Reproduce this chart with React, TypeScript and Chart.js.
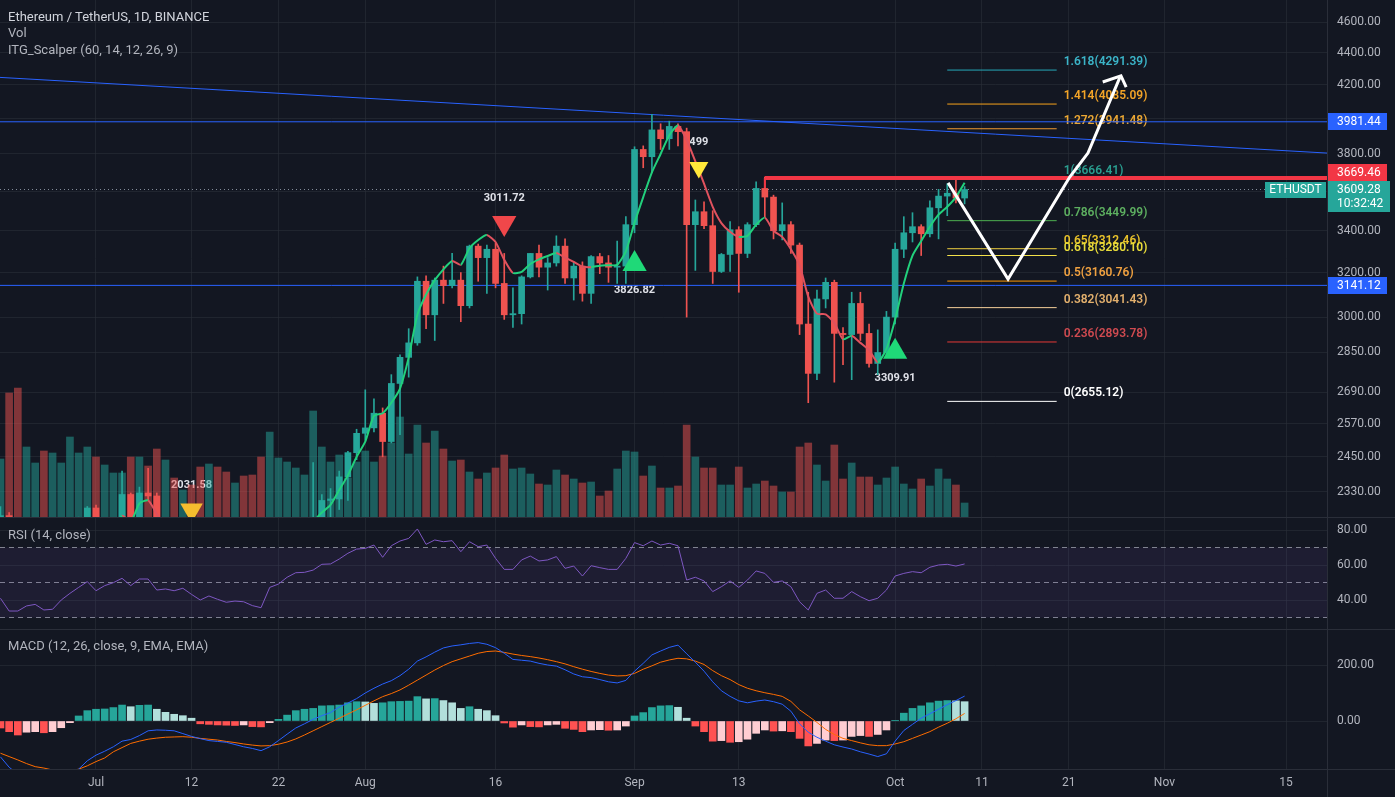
import React, { useEffect, useRef } from "react";
import { Chart, registerables } from "chart.js";

Chart.register(...registerables);

// ---------------- data ----------------
const FIRST_DATE = "2021-06-20";
const AXIS_ORIGIN = "2021-07-01";
const DAY_MS = 86400000;

const opens = [
  2165, 2250, 1890, 1875, 1970, 1990, 1830, 1840, 1975, 2085, 2160,
  2275, 2115, 2150, 2225, 2320, 2200, 2325, 2315, 2115, 2145, 2110, 2140, 2035, 1990, 1995, 1920, 1875, 1895, 1890, 1820, 1785, 1995, 2030, 2125, 2185, 2190, 2230, 2300, 2305, 2380, 2465,
  2535, 2555, 2610, 2505, 2725, 2830, 2890, 3160, 3010, 3165, 3140, 3165, 3050, 3325, 3270, 3310, 3150, 3010, 3015, 3180, 3290, 3225, 3245, 3325, 3175, 3230, 3105, 3275, 3245, 3225, 3230,
  3430, 3825, 3785, 3935, 3885, 3955, 3925, 3430, 3495, 3425, 3205, 3285, 3405, 3290, 3430, 3615, 3570, 3400, 3430, 3330, 2970, 2765, 3080, 3155, 2930, 2925, 3060, 2930, 2805, 2850,
  3000, 3310, 3390, 3420, 3385, 3515, 3575, 3590, 3565,
];
const highs = [
  2280, 2260, 2040, 2045, 2040, 2010, 1870, 1980, 2130, 2245, 2280,
  2285, 2165, 2240, 2400, 2325, 2345, 2410, 2325, 2185, 2190, 2160, 2190, 2045, 2005, 2030, 1975, 1940, 1990, 1905, 1825, 2030, 2045, 2130, 2200, 2195, 2430, 2320, 2340, 2400, 2470, 2550,
  2700, 2665, 2630, 2760, 2840, 2950, 3180, 3185, 3175, 3230, 3290, 3200, 3330, 3335, 3330, 3340, 3290, 3130, 3185, 3290, 3330, 3270, 3375, 3360, 3250, 3250, 3280, 3290, 3280, 3350, 3470,
  3840, 3845, 4025, 3970, 3985, 3970, 3945, 3555, 3545, 3500, 3290, 3445, 3420, 3440, 3650, 3675, 3580, 3540, 3445, 3340, 3110, 3120, 3175, 3165, 2955, 3110, 3110, 2970, 2945, 3025,
  3340, 3470, 3490, 3430, 3550, 3610, 3640, 3675, 3625,
];
const lows = [
  2040, 1890, 1700, 1850, 1870, 1800, 1720, 1800, 1950, 2080, 2050,
  2085, 2040, 2115, 2190, 2160, 2195, 2300, 2085, 2050, 2060, 2080, 2000, 1950, 1880, 1900, 1855, 1850, 1870, 1800, 1720, 1770, 1955, 1990, 2100, 2115, 2160, 2150, 2230, 2270, 2300, 2440,
  2510, 2540, 2450, 2500, 2530, 2750, 2880, 2950, 2900, 3060, 3130, 2980, 3040, 3160, 3105, 3130, 2990, 2955, 2970, 3175, 3180, 3120, 3230, 3150, 3075, 3070, 3060, 3195, 3155, 3150, 3150,
  3390, 3725, 3700, 3825, 3825, 3845, 3000, 3210, 3410, 3150, 3200, 3205, 3110, 3270, 3420, 3470, 3360, 3355, 3290, 2925, 2650, 2740, 3040, 2730, 2800, 2740, 2900, 2790, 2760, 2830,
  2970, 3270, 3345, 3280, 3370, 3360, 3475, 3540, 3535,
];
const closes = [
  2250, 1890, 1875, 1970, 1990, 1830, 1840, 1975, 2085, 2160, 2275,
  2115, 2150, 2225, 2320, 2200, 2325, 2315, 2115, 2145, 2110, 2140, 2035, 1990, 1995, 1920, 1875, 1895, 1890, 1820, 1785, 1995, 2030, 2125, 2185, 2190, 2230, 2300, 2305, 2380, 2465, 2535,
  2555, 2610, 2505, 2725, 2830, 2890, 3160, 3010, 3165, 3140, 3165, 3050, 3325, 3270, 3310, 3150, 3010, 3015, 3180, 3290, 3225, 3245, 3325, 3175, 3230, 3105, 3275, 3245, 3225, 3230, 3430,
  3825, 3785, 3935, 3885, 3955, 3925, 3430, 3495, 3425, 3205, 3285, 3405, 3290, 3430, 3615, 3570, 3400, 3430, 3330, 2970, 2765, 3080, 3155, 2930, 2925, 3060, 2930, 2805, 2850, 3000,
  3310, 3390, 3420, 3385, 3515, 3575, 3590, 3565, 3609.28,
];
// volume, thousand ETH
const volumes = [
  580, 1240, 1290, 700, 540, 660, 640, 540, 800, 640, 700,
  600, 520, 440, 440, 600, 600, 510, 680, 570, 390, 270, 320, 500, 530, 500, 450, 340, 410, 420, 600, 850, 590, 550, 490, 420, 1060, 700, 550, 620, 390, 550,
  660, 550, 610, 740, 1000, 630, 920, 740, 860, 680, 560, 570, 450, 380, 440, 490, 620, 480, 490, 430, 330, 320, 470, 420, 380, 340, 350, 210, 260, 480, 660,
  650, 410, 510, 290, 290, 310, 920, 600, 490, 490, 320, 320, 500, 290, 330, 360, 310, 250, 250, 700, 740, 520, 360, 720, 380, 540, 400, 400, 320, 390,
  500, 330, 280, 380, 310, 480, 380, 320, 140,
];
// ITG_Scalper trend line
const itgLine = [
  2120, 2060, 1960, 1950, 1960, 1910, 1870, 1910, 1990, 2070, 2160,
  2140, 2145, 2180, 2250, 2230, 2290, 2300, 2255, 2200, 2150, 2145, 2090, 2040, 2015, 1965, 1920, 1905, 1900, 1860, 1820, 1910, 1970, 2050, 2120, 2200, 2230, 2260, 2285, 2335, 2385, 2450,
  2505, 2600, 2610, 2650, 2705, 2830, 3010, 3100, 3165, 3215, 3254, 3236, 3315, 3355, 3379, 3345, 3260, 3198, 3203, 3240, 3262, 3278, 3292, 3270, 3250, 3228, 3225, 3232, 3234, 3236, 3300,
  3440, 3570, 3700, 3800, 3905, 3960, 3878, 3760, 3640, 3520, 3438, 3395, 3370, 3375, 3430, 3465, 3400, 3370, 3310, 3235, 3090, 3015, 3012, 2975, 2905, 2920, 2890, 2860, 2810, 2865,
  2990, 3150, 3280, 3350, 3420, 3480, 3520, 3570, 3645,
];
const rsi = [
  41.0, 33.7, 33.7, 36.6, 37.5, 34.3, 34.7, 40.0, 43.8, 47.2, 50.5,
  45.3, 48.2, 49.9, 52.4, 48.2, 52.0, 52.0, 45.7, 46.3, 45.3, 46.7, 43.2, 40.0, 42.3, 40.4, 38.7, 39.4, 39.0, 36.8, 35.6, 47.2, 49.1, 53.0, 55.6, 55.8, 57.1, 60.4, 60.6, 63.4, 66.7, 69.1,
  69.5, 71.4, 64.4, 71.0, 73.7, 75.2, 80.6, 71.8, 74.3, 73.3, 73.9, 67.6, 73.3, 70.5, 71.4, 63.8, 57.5, 57.5, 62.9, 65.1, 62.3, 62.9, 64.8, 58.1, 59.4, 53.7, 59.6, 58.5, 57.5, 57.5, 63.8,
  72.8, 71.0, 73.7, 71.4, 72.4, 71.0, 51.4, 53.0, 50.9, 44.8, 47.6, 50.9, 47.2, 51.4, 56.6, 55.2, 50.1, 50.9, 47.6, 39.0, 34.3, 43.8, 45.7, 41.0, 41.0, 44.8, 41.9, 39.6, 41.0, 45.7,
  53.7, 55.2, 56.2, 55.6, 58.7, 60.0, 60.4, 59.4, 60.6,
];
const macdLine = [
  -128, -165, -190, -205, -210, -212, -210, -200, -188, -172, -142,
  -122, -108, -92, -72, -66, -52, -35, -32, -33, -35, -45, -55, -63, -70, -73, -76, -84, -92, -98, -106, -92, -70, -47, -25, -10, 6, 19, 30, 50, 64, 80,
  100, 117, 132, 144, 162, 185, 214, 229, 246, 261, 268, 272, 277, 280, 274, 262, 242, 220, 217, 214, 206, 200, 196, 183, 168, 158, 155, 148, 140, 136, 145,
  178, 206, 236, 250, 263, 271, 240, 210, 178, 140, 108, 88, 72, 65, 71, 75, 69, 60, 35, -10, -40, -58, -72, -85, -93, -100, -110, -118, -127, -117,
  -72, -34, -12, 10, 26, 42, 58, 73, 89,
];
const signalLine = [
  -115, -127, -139, -152, -163, -168, -175, -178, -178, -172, -160,
  -145, -132, -110, -95, -80, -72, -65, -61, -58, -57, -56, -58, -62, -65, -68, -73, -77, -82, -86, -89, -88, -83, -75, -64, -50, -35, -20, -5, 10, 25, 40,
  56, 72, 87, 98, 111, 128, 146, 164, 182, 198, 212, 222, 232, 242, 248, 250, 245, 239, 234, 230, 225, 219, 212, 204, 194, 185, 177, 170, 164, 161, 162,
  170, 185, 197, 210, 218, 224, 222, 214, 202, 180, 162, 148, 130, 117, 108, 101, 95, 88, 70, 40, 18, -5, -30, -48, -62, -70, -78, -85, -88, -88,
  -82, -74, -62, -50, -38, -22, -8, 8, 27,
];
const histogram = [
  -25, -38, -50, -40, -38, -42, -38, -24, -6, 18, 37,
  42, 43, 48, 57, 51, 56, 57, 42, 31, 24, 19, 10, -10, -12, -14, -15, -16, -14, -20, -21, -6, 6, 21, 37, 42, 45, 54, 55, 57, 65, 69,
  68, 63, 65, 69, 70, 71, 87, 79, 80, 73, 65, 45, 51, 42, 37, 19, -7, -22, -14, -20, -21, -14, -12, -26, -30, -38, -32, -31, -33, -32, -18,
  18, 30, 48, 54, 55, 49, 10, -18, -38, -72, -70, -76, -74, -65, -44, -32, -36, -35, -38, -62, -89, -80, -68, -70, -68, -55, -52, -55, -48, -32,
  1, 28, 45, 54, 65, 71, 73, 72, 69,
];

const xTickDates = ["2021-07-01", "2021-07-12", "2021-07-22", "2021-08-01", "2021-08-16", "2021-09-01", "2021-09-13", "2021-10-01", "2021-10-11", "2021-10-21", "2021-11-01", "2021-11-15"];
const xTickLabels = ["Jul", "12", "22", "Aug", "16", "Sep", "13", "Oct", "11", "21", "Nov", "15"];
const priceTicks = [4600, 4400, 4200, 4000, 3800, 3600, 3400, 3200, 3000, 2850, 2690, 2570, 2450, 2330];
const rsiTicks = [40, 60, 80];
const rsiLevels = [70, 50, 30];
const macdTicks = [0, 200];

const fibRatios = [1.618, 1.414, 1.272, 1, 0.786, 0.65, 0.618, 0.5, 0.382, 0.236, 0];
const fibPrices = [4291.39, 4085.09, 3941.48, 3666.41, 3449.99, 3312.46, 3280.1, 3160.76, 3041.43, 2893.78, 2655.12];
const fibDays = [98, 110.6];
const fibLabelDay = 111.4;

const hLinePrices = [3981.44, 3141.12];
const trendLine = [[-11.052, 4246], [141.72, 3805]];
const resistance = { startDay: 77, price: 3669.46, tickPrice: 3617 };
const lastPrice = 3609.28;
const arrowPath = [[98.1, 3644], [105.0, 3170], [112.1, 3675], [114.2, 3805], [117.9, 4249]];
const arrowHead = [[115.9, 4218], [118.0, 4255], [118.6, 4187]];
const markers = [
  { day: 47, price: 3438, dir: "down", color: "#f0474a", size: 14, label: "3011.72" },
  { day: 62, price: 3240, dir: "up", color: "#1fd978", size: 14, label: "3826.82" },
  { day: 69.4, price: 3726, dir: "down", color: "#ffe83a", size: 11, label: "499" },
  { day: 92, price: 2853, dir: "up", color: "#1fd978", size: 14, label: "3309.91" },
  { day: 11, price: 2268, dir: "down", color: "#f5bd2e", size: 13, label: "2031.58" },
];

// ---------------- layout & style ----------------
const W = 1395;
const AXIS_W = 68;
const PRICE_H = 517;
const RSI_TOP = 518;
const RSI_H = 111;
const MACD_TOP = 630;
const MACD_H = 167;
const X_MIN = -11.052;
const X_MAX = 141.72;
const P_MIN = 2245.5;
const P_MAX = 4750;
const VOL_MAX = 5170;
const RSI_MIN = 23.43;
const RSI_MAX = 86.86;
const MACD_MIN = -171.4;
const MACD_MAX = 325;

const BG = "#131722";
const GRID = "rgba(42,46,57,0.6)";
const SEP = "#2a2e39";
const TXT = "#b2b5be";
const FONT = "Roboto, 'Open Sans', sans-serif";
const UP = "#26a69a";
const DN = "#ef5350";
const VOL_UP = "rgba(38,166,154,0.5)";
const VOL_DN = "rgba(239,83,80,0.5)";
const BLUE = "#2962ff";
const RED = "#f23645";
const ITG_UP = "#22d07c";
const ITG_DN = "#e0525e";
const fibLineColors = ["#26a7b9", "#f7a21b", "#f09a30", "#26a69a", "#4caf50", "#f0d040", "#f3e14a", "#ff9800", "#f5cf9a", "#e53935", "#ffffff"];
const fibTextColors = ["#3bb4c8", "#f3a427", "#eba733", "#2a9d8f", "#5daf60", "#e8c22a", "#e8dc3a", "#f0a140", "#e3b06d", "#cf4a50", "#ffffff"];

const toDay = (iso: string) =>
  (Date.parse(iso + "T00:00:00Z") - Date.parse(AXIS_ORIGIN + "T00:00:00Z")) / DAY_MS;
const dates = opens.map((_, i) =>
  new Date(Date.parse(FIRST_DATE + "T00:00:00Z") + i * DAY_MS).toISOString().slice(0, 10)
);
const days = dates.map(toDay);
const xTickDays = xTickDates.map(toDay);
const isUp = closes.map((c, i) => c >= opens[i]);

const noPad = (s: any) => {
  s.paddingTop = 0;
  s.paddingBottom = 0;
  s.paddingLeft = 0;
  s.paddingRight = 0;
};

const xScale = (showLabels: boolean): any => ({
  type: "linear",
  min: X_MIN,
  max: X_MAX,
  offset: false,
  grid: { color: GRID, drawTicks: false, offset: false },
  border: { display: showLabels, color: SEP },
  ticks: {
    display: showLabels,
    color: TXT,
    font: { size: 12, family: FONT },
    padding: 7,
    autoSkip: false,
    maxRotation: 0,
    callback: (_v: any, i: number) => xTickLabels[i],
  },
  afterBuildTicks: (s: any) => {
    s.ticks = xTickDays.map((v) => ({ value: v }));
  },
  afterFit: (s: any) => {
    s.height = showLabels ? 28 : 0;
    noPad(s);
  },
});

const yScale = (type: string, min: number, max: number, ticks: number[]): any => ({
  type,
  position: "right",
  min,
  max,
  beginAtZero: false,
  grid: { color: GRID, drawTicks: false },
  border: { color: SEP },
  ticks: {
    color: TXT,
    font: { size: 12, family: FONT },
    padding: 10,
    autoSkip: false,
    callback: (v: any) => Number(v).toFixed(2),
  },
  afterBuildTicks: (s: any) => {
    s.ticks = ticks.map((v) => ({ value: v }));
  },
  afterFit: (s: any) => {
    s.width = AXIS_W;
    noPad(s);
  },
});

const baseOptions = (scales: any): any => ({
  responsive: false,
  maintainAspectRatio: false,
  animation: false,
  devicePixelRatio: 1,
  events: [],
  layout: { padding: 0, autoPadding: false },
  plugins: { legend: { display: false }, tooltip: { enabled: false } },
  scales,
});

const flatLine = (price: number, color: string, width: number, order: number, dash: number[] = []) => ({
  type: "line",
  data: [{ x: X_MIN, y: price }, { x: X_MAX, y: price }],
  borderColor: color,
  borderWidth: width,
  borderDash: dash,
  pointRadius: 0,
  fill: false,
  order,
});

const pairs = (arr: number[][]) => arr.map(([x, y]) => ({ x, y }));

const annotationPlugin = {
  id: "annotations",
  beforeDatasetsDraw(chart: any) {
    const { ctx, chartArea, scales } = chart;
    const x = scales.x;
    const y = scales.y;
    ctx.save();
    ctx.beginPath();
    ctx.rect(chartArea.left, chartArea.top, chartArea.right - chartArea.left, chartArea.bottom - chartArea.top);
    ctx.clip();
    ctx.textBaseline = "middle";
    ctx.textAlign = "left";
    ctx.font = `600 12px ${FONT}`;
    fibRatios.forEach((r, i) => {
      ctx.fillStyle = fibTextColors[i];
      ctx.fillText(`${r}(${fibPrices[i].toFixed(2)})`, x.getPixelForValue(fibLabelDay), y.getPixelForValue(fibPrices[i]) - 8);
    });
    ctx.textAlign = "center";
    ctx.font = `bold 11px ${FONT}`;
    ctx.fillStyle = "#dfe1e8";
    markers.forEach((m) => {
      const py = y.getPixelForValue(m.price) + (m.dir === "down" ? -25 : 26);
      ctx.fillText(m.label, x.getPixelForValue(m.day), py);
    });
    ctx.restore();
  },
  afterDraw(chart: any) {
    const { ctx, chartArea, scales } = chart;
    const y = scales.y;
    const left = chartArea.right;
    ctx.save();
    ctx.font = `12px ${FONT}`;
    ctx.textBaseline = "middle";
    ctx.textAlign = "left";
    const tag = (price: number, bg: string, shift: number) => {
      const yc = y.getPixelForValue(price) + shift;
      ctx.fillStyle = bg;
      ctx.fillRect(left, Math.round(yc - 8.5), 60, 17);
      ctx.fillStyle = "#ffffff";
      ctx.fillText(price.toFixed(2), left + 10, yc + 0.5);
    };
    tag(hLinePrices[0], BLUE, 0);
    tag(hLinePrices[1], BLUE, 0);
    tag(resistance.price, RED, -6);
    const ly = y.getPixelForValue(lastPrice);
    ctx.fillStyle = UP;
    ctx.fillRect(left, Math.round(ly - 8.5), 63, 31);
    ctx.fillRect(left - 62, Math.round(ly - 7.5), 61, 16);
    ctx.fillStyle = "#ffffff";
    ctx.fillText(lastPrice.toFixed(2), left + 10, ly + 0.5);
    ctx.fillText("10:32:42", left + 10, ly + 14.5);
    ctx.textAlign = "center";
    ctx.fillText("ETHUSDT", left - 31.5, ly + 0.5);
    ctx.restore();
  },
};

function priceConfig(): any {
  const candleColors = isUp.map((u) => (u ? UP : DN));
  const datasets: any[] = [
    {
      type: "bar",
      data: days.map((x, i) => ({ x, y: volumes[i] })),
      yAxisID: "yv",
      backgroundColor: isUp.map((u) => (u ? VOL_UP : VOL_DN)),
      barThickness: 7,
      grouped: false,
      borderWidth: 0,
      order: 40,
    },
    {
      type: "line",
      data: pairs(trendLine),
      borderColor: BLUE,
      borderWidth: 1,
      pointRadius: 0,
      order: 35,
    },
    ...hLinePrices.map((p) => flatLine(p, BLUE, 1, 35)),
    flatLine(lastPrice, "rgba(170,180,195,0.75)", 1, 35, [1, 3]),
    {
      type: "bar",
      data: days.map((x, i) => ({ x, y: [lows[i], highs[i]] })),
      backgroundColor: candleColors,
      barThickness: 1,
      grouped: false,
      borderWidth: 0,
      order: 30,
    },
    {
      type: "bar",
      data: days.map((x, i) => ({ x, y: [Math.min(opens[i], closes[i]), Math.max(opens[i], closes[i])] })),
      backgroundColor: candleColors,
      barThickness: 6,
      minBarLength: 1,
      grouped: false,
      borderWidth: 0,
      order: 29,
    },
    {
      type: "line",
      data: days.map((x, i) => ({ x, y: itgLine[i] })),
      borderColor: ITG_UP,
      borderWidth: 2,
      pointRadius: 0,
      tension: 0.2,
      segment: { borderColor: (c: any) => (c.p1.parsed.y >= c.p0.parsed.y ? ITG_UP : ITG_DN) },
      order: 25,
    },
    ...fibPrices.map((p, i) => ({
      type: "line",
      data: [{ x: fibDays[0], y: p }, { x: fibDays[1], y: p }],
      borderColor: fibLineColors[i],
      borderWidth: 1,
      pointRadius: 0,
      order: 22,
    })),
    {
      type: "line",
      data: [{ x: resistance.startDay, y: resistance.price }, { x: X_MAX, y: resistance.price }],
      borderColor: RED,
      borderWidth: 4,
      pointRadius: 0,
      order: 20,
    },
    {
      type: "line",
      data: [{ x: resistance.startDay, y: resistance.price }, { x: resistance.startDay, y: resistance.tickPrice }],
      borderColor: RED,
      borderWidth: 2,
      pointRadius: 0,
      order: 20,
    },
    {
      type: "line",
      data: pairs(arrowPath),
      borderColor: "#ffffff",
      borderWidth: 3,
      pointRadius: 0,
      borderJoinStyle: "miter",
      order: 15,
    },
    {
      type: "line",
      data: pairs(arrowHead),
      borderColor: "#ffffff",
      borderWidth: 3,
      pointRadius: 0,
      order: 15,
    },
    {
      type: "line",
      showLine: false,
      data: markers.map((m) => ({ x: m.day, y: m.price })),
      pointStyle: "triangle",
      pointRadius: markers.map((m) => m.size),
      pointRotation: markers.map((m) => (m.dir === "down" ? 180 : 0)),
      pointBackgroundColor: markers.map((m) => m.color),
      pointBorderWidth: 0,
      order: 10,
    },
  ];
  return {
    type: "bar",
    data: { datasets },
    options: baseOptions({
      x: xScale(false),
      y: yScale("logarithmic", P_MIN, P_MAX, priceTicks),
      yv: { type: "linear", display: false, min: 0, max: VOL_MAX, afterFit: noPad },
    }),
    plugins: [annotationPlugin],
  };
}

function rsiConfig(): any {
  const levelColor = "rgba(165,168,180,0.75)";
  return {
    type: "line",
    data: {
      datasets: [
        {
          data: [{ x: X_MIN, y: rsiLevels[0] }, { x: X_MAX, y: rsiLevels[0] }],
          borderColor: levelColor,
          borderWidth: 1,
          borderDash: [5, 4],
          pointRadius: 0,
          fill: { value: rsiLevels[2] },
          backgroundColor: "rgba(126,87,194,0.1)",
          order: 5,
        },
        ...rsiLevels.slice(1).map((v) => ({
          data: [{ x: X_MIN, y: v }, { x: X_MAX, y: v }],
          borderColor: levelColor,
          borderWidth: 1,
          borderDash: [5, 4],
          pointRadius: 0,
          fill: false,
          order: 5,
        })),
        {
          data: days.map((x, i) => ({ x, y: rsi[i] })),
          borderColor: "#7e57c2",
          borderWidth: 1,
          pointRadius: 0,
          fill: false,
          order: 1,
        },
      ],
    },
    options: baseOptions({
      x: xScale(false),
      y: yScale("linear", RSI_MIN, RSI_MAX, rsiTicks),
    }),
  };
}

function macdConfig(): any {
  const histColors = histogram.map((v, i) => {
    const prev = i > 0 ? histogram[i - 1] : v;
    if (v >= 0) return prev < v ? "#26a69a" : "#b2dfdb";
    return prev < v ? "#ffcdd2" : "#ff5252";
  });
  return {
    type: "bar",
    data: {
      datasets: [
        {
          type: "bar",
          data: days.map((x, i) => ({ x, y: histogram[i] })),
          backgroundColor: histColors,
          barThickness: 7,
          grouped: false,
          borderWidth: 0,
          order: 10,
        },
        {
          type: "line",
          data: days.map((x, i) => ({ x, y: macdLine[i] })),
          borderColor: "#2962ff",
          borderWidth: 1,
          pointRadius: 0,
          order: 2,
        },
        {
          type: "line",
          data: days.map((x, i) => ({ x, y: signalLine[i] })),
          borderColor: "#ff6d00",
          borderWidth: 1,
          pointRadius: 0,
          order: 3,
        },
      ],
    },
    options: baseOptions({
      x: xScale(true),
      y: yScale("linear", MACD_MIN, MACD_MAX, macdTicks),
    }),
  };
}

const textStyle = (top: number, size: number, color: string): React.CSSProperties => ({
  position: "absolute",
  left: 8,
  top,
  fontFamily: FONT,
  fontSize: size,
  color,
  lineHeight: "16px",
  whiteSpace: "nowrap",
  pointerEvents: "none",
});

export default function App() {
  const priceRef = useRef<HTMLCanvasElement>(null);
  const rsiRef = useRef<HTMLCanvasElement>(null);
  const macdRef = useRef<HTMLCanvasElement>(null);

  useEffect(() => {
    document.body.style.margin = "0";
    document.body.style.background = BG;
    const charts = [
      new Chart(priceRef.current as HTMLCanvasElement, priceConfig()),
      new Chart(rsiRef.current as HTMLCanvasElement, rsiConfig()),
      new Chart(macdRef.current as HTMLCanvasElement, macdConfig()),
    ];
    return () => charts.forEach((c) => c.destroy());
  }, []);

  const hSep = (top: number): React.CSSProperties => ({ position: "absolute", left: 0, top, width: W, height: 1, background: SEP });

  return (
    <div style={{ position: "relative", width: W, height: 797, background: BG, overflow: "hidden" }}>
      <canvas ref={priceRef} width={W} height={PRICE_H} style={{ position: "absolute", left: 0, top: 0 }} />
      <canvas ref={rsiRef} width={W} height={RSI_H} style={{ position: "absolute", left: 0, top: RSI_TOP }} />
      <canvas ref={macdRef} width={W} height={MACD_H} style={{ position: "absolute", left: 0, top: MACD_TOP }} />
      <div style={hSep(PRICE_H)} />
      <div style={hSep(RSI_TOP + RSI_H)} />
      <div style={hSep(769)} />
      <div style={{ position: "absolute", left: W - AXIS_W, top: 0, width: 1, height: 797, background: SEP }} />
      <div style={textStyle(9, 13, "#d1d4dc")}>Ethereum / TetherUS, 1D, BINANCE</div>
      <div style={textStyle(25, 13, "#b2b5be")}>Vol</div>
      <div style={textStyle(42, 13, "#b2b5be")}>ITG_Scalper (60, 14, 12, 26, 9)</div>
      <div style={textStyle(527, 13, "#b2b5be")}>RSI (14, close)</div>
      <div style={textStyle(638, 13, "#b2b5be")}>MACD (12, 26, close, 9, EMA, EMA)</div>
    </div>
  );
}
